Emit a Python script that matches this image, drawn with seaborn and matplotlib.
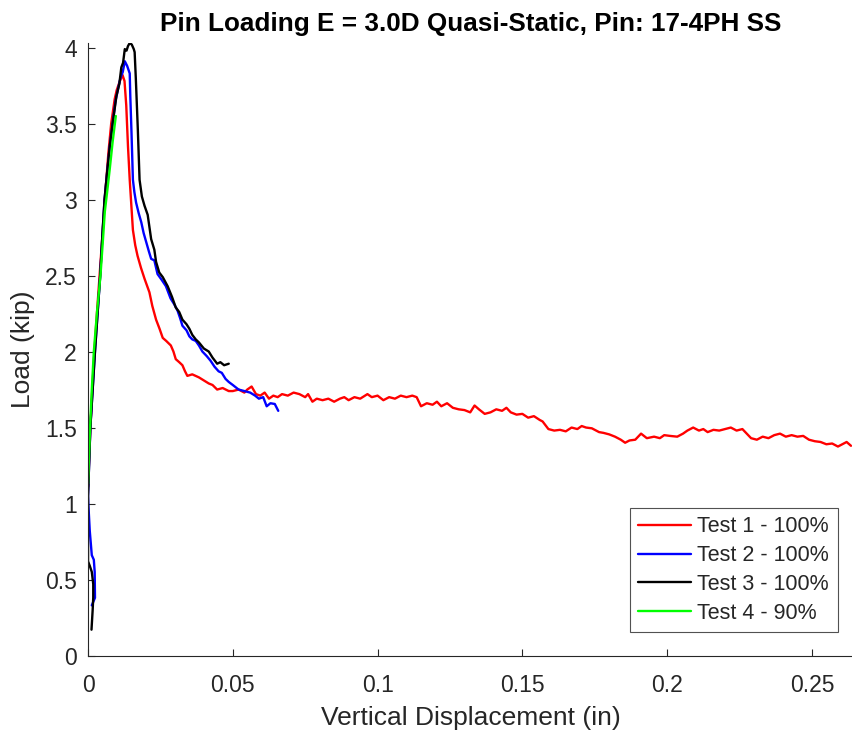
import numpy as np
import pandas as pd
import matplotlib
matplotlib.use("Agg")
import matplotlib.pyplot as plt
import seaborn as sns

# ---- data ----
labels = ["Test 1 - 100%", "Test 2 - 100%", "Test 3 - 100%", "Test 4 - 90%"]
line_colors = ["#FF0000", "#0000FF", "#000000", "#00FF00"]

test1_x = [0.0, 0.0004, 0.0008, 0.0015, 0.0022, 0.0031, 0.0040, 0.0051, 0.0058, 0.0070,
           0.0080, 0.0092, 0.0099, 0.0110, 0.0119, 0.0126, 0.0132, 0.0138, 0.0144, 0.0150,
           0.0155, 0.0163, 0.0171, 0.0183, 0.0195, 0.0212, 0.0222, 0.0235, 0.0247, 0.0258,
           0.0270, 0.0286, 0.0295, 0.0303, 0.0315, 0.0326, 0.0335, 0.0343, 0.0360, 0.0383,
           0.0400, 0.0417, 0.0430, 0.0446, 0.0465, 0.0486, 0.0500, 0.0520, 0.0540, 0.0550,
           0.0565, 0.0580, 0.0595, 0.0610, 0.0625, 0.0640, 0.0655, 0.0670, 0.0690, 0.0710,
           0.0730, 0.0750, 0.0760, 0.0775, 0.0790, 0.0810, 0.0830, 0.0850, 0.0870, 0.0885,
           0.0900, 0.0920, 0.0940, 0.0965, 0.0980, 0.1000, 0.1020, 0.1040, 0.1060, 0.1080,
           0.1100, 0.1120, 0.1135, 0.1150, 0.1170, 0.1190, 0.1205, 0.1220, 0.1240, 0.1260,
           0.1280, 0.1300, 0.1320, 0.1335, 0.1350, 0.1370, 0.1390, 0.1410, 0.1430, 0.1445,
           0.1460, 0.1480, 0.1500, 0.1520, 0.1540, 0.1560, 0.1570, 0.1590, 0.1610, 0.1630,
           0.1650, 0.1670, 0.1690, 0.1705, 0.1720, 0.1740, 0.1765, 0.1780, 0.1800, 0.1820,
           0.1840, 0.1855, 0.1870, 0.1890, 0.1910, 0.1930, 0.1955, 0.1975, 0.1990, 0.2010,
           0.2035, 0.2055, 0.2070, 0.2090, 0.2110, 0.2125, 0.2140, 0.2160, 0.2180, 0.2200,
           0.2220, 0.2240, 0.2260, 0.2275, 0.2290, 0.2310, 0.2330, 0.2350, 0.2370, 0.2390,
           0.2410, 0.2430, 0.2450, 0.2470, 0.2490, 0.2510, 0.2530, 0.2550, 0.2570, 0.2590,
           0.2605, 0.2620, 0.2635]
test1_y = [1.11, 1.30, 1.50, 1.76, 2.00, 2.26, 2.50, 2.80, 3.00, 3.30,
           3.50, 3.66, 3.72, 3.78, 3.82, 3.78, 3.62, 3.35, 3.13, 2.95,
           2.80, 2.70, 2.63, 2.55, 2.48, 2.39, 2.30, 2.21, 2.15, 2.09,
           2.07, 2.04, 2.00, 1.95, 1.93, 1.91, 1.87, 1.84, 1.85, 1.83,
           1.81, 1.79, 1.78, 1.75, 1.76, 1.74, 1.74, 1.75, 1.73, 1.75,
           1.77, 1.72, 1.71, 1.73, 1.69, 1.71, 1.70, 1.72, 1.71, 1.73,
           1.72, 1.70, 1.72, 1.67, 1.69, 1.68, 1.69, 1.67, 1.69, 1.70,
           1.68, 1.70, 1.69, 1.72, 1.70, 1.71, 1.68, 1.70, 1.69, 1.71,
           1.70, 1.71, 1.70, 1.64, 1.66, 1.65, 1.67, 1.64, 1.66, 1.63,
           1.62, 1.615, 1.60, 1.645, 1.62, 1.59, 1.60, 1.62, 1.61, 1.63,
           1.60, 1.585, 1.59, 1.565, 1.575, 1.55, 1.54, 1.49, 1.48, 1.485,
           1.475, 1.50, 1.49, 1.51, 1.50, 1.495, 1.47, 1.465, 1.455, 1.44,
           1.42, 1.40, 1.415, 1.42, 1.46, 1.43, 1.44, 1.43, 1.45, 1.445,
           1.44, 1.46, 1.48, 1.50, 1.48, 1.49, 1.47, 1.485, 1.48, 1.49,
           1.50, 1.48, 1.49, 1.46, 1.43, 1.42, 1.44, 1.43, 1.45, 1.46,
           1.44, 1.45, 1.44, 1.445, 1.42, 1.41, 1.405, 1.39, 1.395, 1.375,
           1.39, 1.405, 1.38]

test2_x = [0.0013, 0.0024, 0.0023, 0.0020, 0.0013, 0.0006, 0.0001, 0.0000, 0.0008, 0.0016,
           0.0024, 0.0033, 0.0042, 0.0050, 0.0057, 0.0066, 0.0075, 0.0085, 0.0095, 0.0105,
           0.0112, 0.0120, 0.0127, 0.0135, 0.0144, 0.0146, 0.0150, 0.0155, 0.0160, 0.0166,
           0.0175, 0.0184, 0.0192, 0.0201, 0.0210, 0.0218, 0.0229, 0.0240, 0.0255, 0.0269,
           0.0285, 0.0298, 0.0309, 0.0318, 0.0326, 0.0340, 0.0350, 0.0360, 0.0372, 0.0383,
           0.0395, 0.0410, 0.0423, 0.0437, 0.0451, 0.0462, 0.0475, 0.0486, 0.0500, 0.0520,
           0.0540, 0.0560, 0.0577, 0.0590, 0.0605, 0.0617, 0.0630, 0.0645, 0.0657]
test2_y = [0.33, 0.38, 0.55, 0.63, 0.66, 0.82, 1.00, 1.05, 1.50, 1.75,
           2.00, 2.25, 2.50, 2.78, 3.00, 3.18, 3.35, 3.50, 3.65, 3.74,
           3.80, 3.84, 3.91, 3.88, 3.83, 3.68, 3.45, 3.13, 3.05, 2.98,
           2.91, 2.85, 2.78, 2.72, 2.66, 2.61, 2.60, 2.51, 2.47, 2.43,
           2.35, 2.31, 2.27, 2.22, 2.17, 2.14, 2.10, 2.08, 2.07, 2.04,
           2.00, 1.97, 1.94, 1.90, 1.87, 1.86, 1.82, 1.80, 1.78, 1.75,
           1.74, 1.73, 1.71, 1.69, 1.70, 1.64, 1.66, 1.655, 1.61]

test3_x = [0.0012, 0.0016, 0.0018, 0.0018, 0.0013, 0.0006, 0.0000, 0.0000, 0.0008, 0.0016,
           0.0024, 0.0033, 0.0042, 0.0050, 0.0057, 0.0066, 0.0075, 0.0085, 0.0098, 0.0108,
           0.0115, 0.0121, 0.0127, 0.0133, 0.0138, 0.0144, 0.0151, 0.0158, 0.0161, 0.0165,
           0.0172, 0.0178, 0.0186, 0.0195, 0.0206, 0.0218, 0.0229, 0.0235, 0.0246, 0.0258,
           0.0275, 0.0290, 0.0303, 0.0315, 0.0326, 0.0340, 0.0350, 0.0360, 0.0372, 0.0383,
           0.0400, 0.0417, 0.0430, 0.0446, 0.0457, 0.0470, 0.0486]
test3_y = [0.17, 0.30, 0.38, 0.47, 0.55, 0.59, 0.62, 1.05, 1.50, 1.75,
           2.00, 2.25, 2.50, 2.78, 3.00, 3.18, 3.35, 3.50, 3.68, 3.76,
           3.87, 3.90, 3.99, 3.98, 4.01, 4.03, 4.02, 3.99, 3.97, 3.80,
           3.46, 3.13, 3.02, 2.96, 2.90, 2.74, 2.67, 2.59, 2.52, 2.49,
           2.43, 2.36, 2.29, 2.26, 2.21, 2.18, 2.15, 2.11, 2.08, 2.06,
           2.02, 2.00, 1.96, 1.92, 1.93, 1.91, 1.92]

test4_x = [0.0000, 0.0007, 0.0013, 0.0020, 0.0031, 0.0043, 0.0051, 0.0058, 0.0066, 0.0075,
           0.0085, 0.0096]
test4_y = [1.13, 1.50, 1.75, 2.00, 2.26, 2.50, 2.72, 2.92, 3.05, 3.20,
           3.38, 3.55]

frames = []
for lab, xs, ys in zip(labels, [test1_x, test2_x, test3_x, test4_x],
                       [test1_y, test2_y, test3_y, test4_y]):
    frames.append(pd.DataFrame({"disp": xs, "load": ys, "test": lab}))
df = pd.concat(frames, ignore_index=True)

# ---- plot ----
sns.set_style("white")
plt.rcParams["font.family"] = ["Liberation Sans", "DejaVu Sans"]

fig = plt.figure(figsize=(8.53, 7.33), dpi=100)
ax = fig.add_axes([0.1032, 0.1057, 0.8968, 0.8356])

sns.lineplot(ax=ax, data=df, x="disp", y="load", hue="test", hue_order=labels,
             palette=line_colors, sort=False, estimator=None, linewidth=1.7)

ax.set_xlim(0, 0.2642)
ax.set_ylim(0, 4.03)
ax.set_xticks([0, 0.05, 0.1, 0.15, 0.2, 0.25])
ax.set_xticklabels(["0", "0.05", "0.1", "0.15", "0.2", "0.25"])
ax.set_yticks([0, 0.5, 1, 1.5, 2, 2.5, 3, 3.5, 4])
ax.set_yticklabels(["0", "0.5", "1", "1.5", "2", "2.5", "3", "3.5", "4"])

ax.set_title("Pin Loading E = 3.0D Quasi-Static, Pin: 17-4PH SS",
             fontsize=18.8, fontweight="bold", color="#000000", pad=9)
ax.set_xlabel("Vertical Displacement (in)", fontsize=19, color="#262626", labelpad=6)
ax.set_ylabel("Load (kip)", fontsize=19, color="#262626", labelpad=7)

ax.tick_params(axis="both", which="major", direction="in", length=5, width=0.8,
               labelsize=16.5, colors="#262626", left=True, bottom=True)
ax.tick_params(axis="x", pad=13.5)
ax.tick_params(axis="y", pad=8)
sns.despine(ax=ax)
for side in ["left", "bottom"]:
    ax.spines[side].set_color("#262626")
    ax.spines[side].set_linewidth(0.8)

leg = ax.legend(loc="lower right", bbox_to_anchor=(0.980, 0.038), fontsize=15.5,
                frameon=True, fancybox=False, handlelength=2.45, handletextpad=0.3,
                labelspacing=0.36, borderpad=0.40, borderaxespad=0)
leg.get_frame().set_edgecolor("#262626")
leg.get_frame().set_linewidth(0.8)
for h in leg.get_lines():
    h.set_linewidth(1.7)

fig.savefig("out.png", dpi=100, facecolor="#FFFFFF")
